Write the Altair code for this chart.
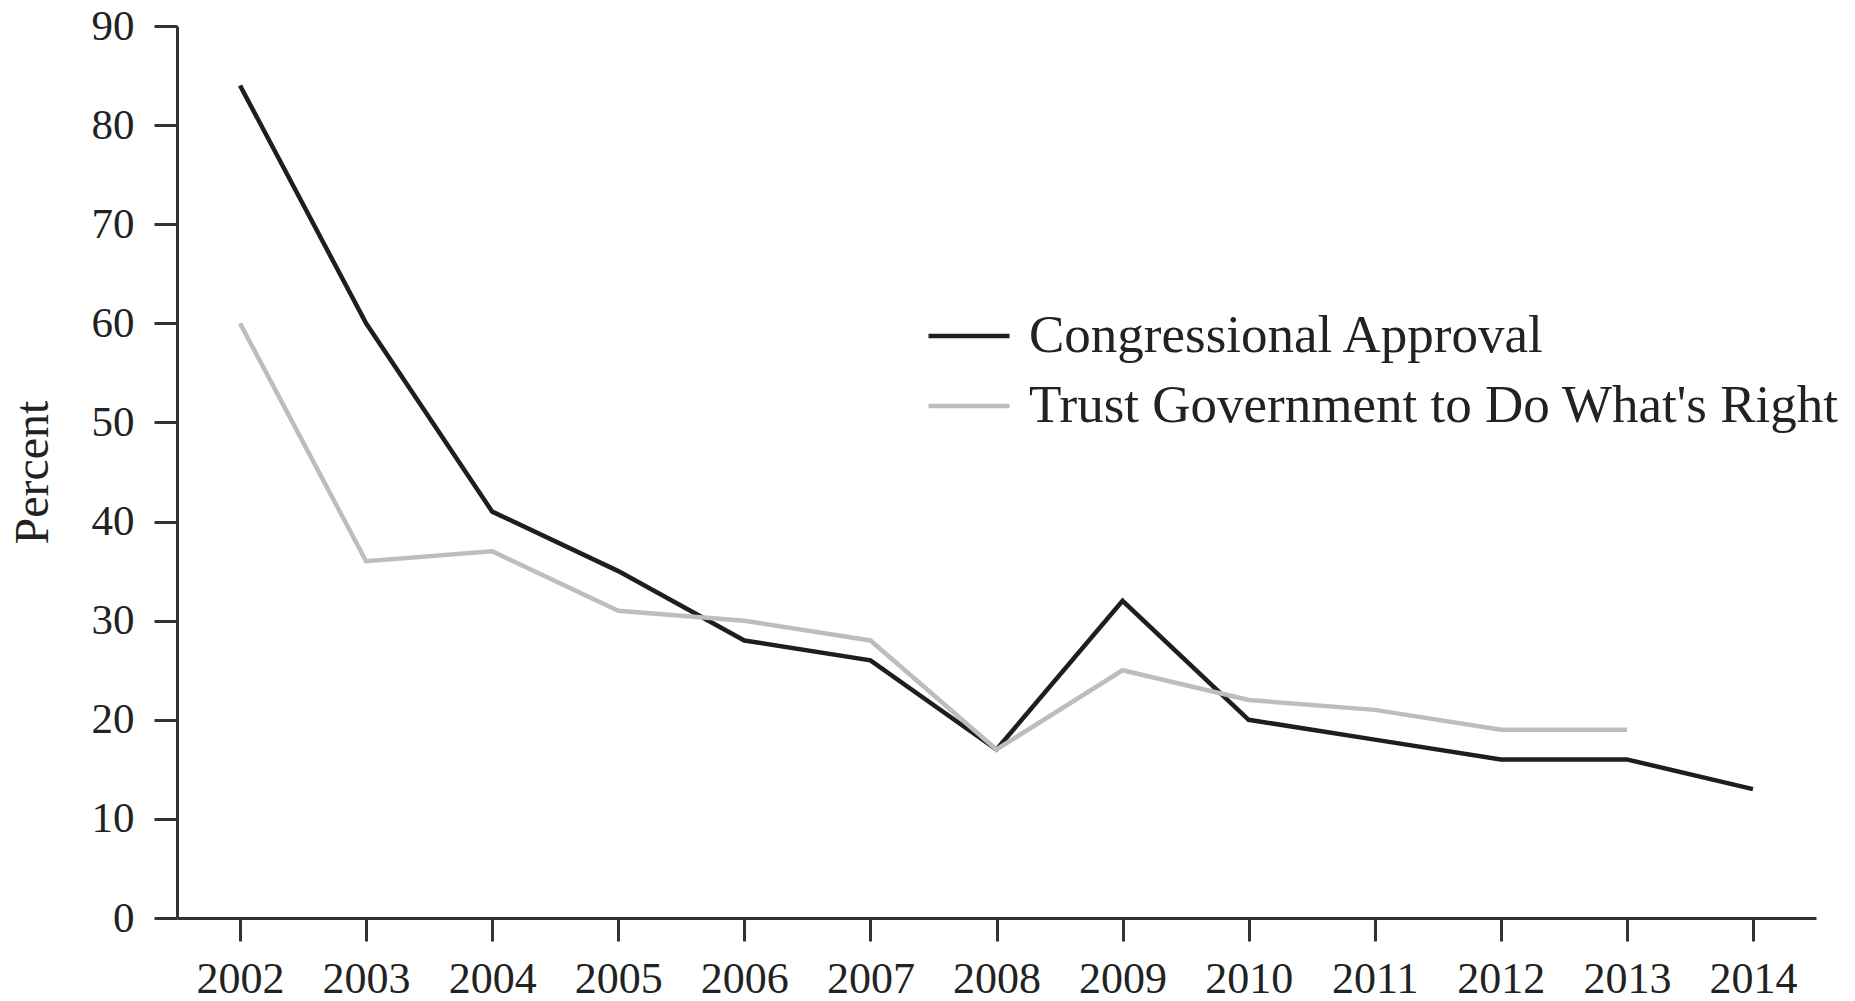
import altair as alt
import pandas as pd

years = list(range(2002, 2015))
congress = [84, 60, 41, 35, 28, 26, 17, 32, 20, 18, 16, 16, 13]
trust_years = list(range(2002, 2014))
trust = [60, 36, 37, 31, 30, 28, 17, 25, 22, 21, 19, 19]
series = ["Congressional Approval", "Trust Government to Do What's Right"]
y_ticks = [0, 10, 20, 30, 40, 50, 60, 70, 80, 90]

rows = [{"year": y, "value": v, "series": series[0]} for y, v in zip(years, congress)]
rows += [{"year": y, "value": v, "series": series[1]} for y, v in zip(trust_years, trust)]
df = pd.DataFrame(rows)

FONT = "Liberation Serif"

chart = alt.Chart(df).mark_line(strokeWidth=4.5, strokeJoin="miter").encode(
    x=alt.X("year:Q",
            scale=alt.Scale(domain=[2001.5, 2014.5], nice=False, zero=False),
            axis=alt.Axis(values=years, format="d", title=None, grid=False,
                          labelFontSize=44, labelFont=FONT, labelColor="#222",
                          labelPadding=16, tickSize=23, tickWidth=3, tickColor="#333",
                          domainWidth=3, domainColor="#333", labelFlush=False,
                          labelOverlap=False)),
    y=alt.Y("value:Q",
            scale=alt.Scale(domain=[0, 90], nice=False),
            axis=alt.Axis(values=y_ticks, title="Percent", grid=False,
                          labelFontSize=43, labelFont=FONT, labelColor="#222",
                          labelPadding=20, tickSize=23, tickWidth=3, tickColor="#333",
                          domainWidth=3, domainColor="#333",
                          titleFont=FONT, titleFontSize=48, titleFontWeight="normal",
                          titleColor="#222", titleX=-144, titleY=446, titleAngle=270,
                          titleAlign="center", titleBaseline="middle")),
    color=alt.Color("series:N",
                    scale=alt.Scale(domain=series, range=["#1e1e1e", "#bdbdbd"]),
                    legend=alt.Legend(title=None, orient="none", legendX=749, legendY=267,
                                      symbolType="stroke", symbolSize=6561,
                                      symbolStrokeWidth=4.5, labelFont=FONT,
                                      labelFontSize=53, labelColor="#222",
                                      labelOffset=17, rowPadding=0,
                                      labelLimit=1200)),
    order=alt.Order("series:N", sort="descending"),
).properties(
    width=1639, height=892,
    padding={"left": 169, "top": 18, "right": 30, "bottom": 86},
    autosize=alt.AutoSizeParams(type="none"),
).configure(background="white").configure_view(stroke=None)

chart.save("out.html", embed_options={"renderer": "svg", "actions": False})
